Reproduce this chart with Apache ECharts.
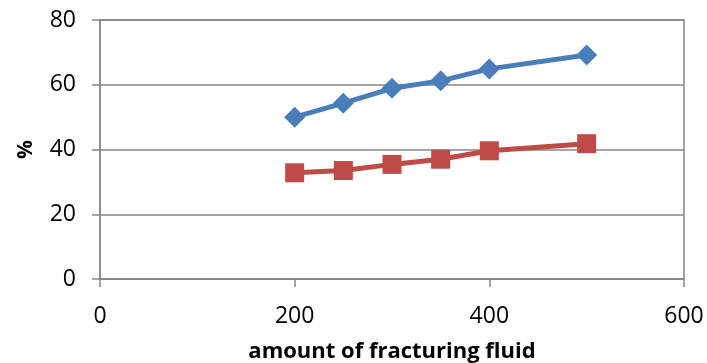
<!DOCTYPE html>
<html><head><meta charset="utf-8">
<script src="https://cdn.jsdelivr.net/npm/echarts@6/dist/echarts.min.js"></script>
<style>html,body{margin:0;padding:0;background:#fff}#c{width:707px;height:363px}</style>
</head><body><div id="c"></div>
<script>
var xValues = [200, 250, 300, 350, 400, 500];
var blueSeries = [50.0, 54.3, 58.9, 61.2, 64.9, 69.2];
var redSeries = [32.8, 33.5, 35.4, 37.0, 39.6, 41.8];
var xTicks = [0, 200, 400, 600];
var yTicks = [0, 20, 40, 60, 80];

function pairs(xs, ys){ return xs.map(function(x,i){ return [x, ys[i]]; }); }
var gray = '#878787';
var font = 'Open Sans';
var chart = echarts.init(document.getElementById('c'), null, {renderer:'canvas'});
chart.setOption({
  animation:false,
  grid:{left:100, right:23, top:20, bottom:84, show:true, borderColor:gray, borderWidth:1.5,
    containLabel:false, outerBoundsMode:'none'},
  xAxis:{type:'value', min:xTicks[0], max:xTicks[xTicks.length-1], interval:200,
    name:'amount of fracturing fluid', nameLocation:'middle', nameGap:62,
    nameTextStyle:{fontFamily:font, fontWeight:'bold', fontSize:22, color:'#000'},
    axisLine:{lineStyle:{color:gray, width:1.5}},
    axisTick:{show:true, length:8, inside:false, lineStyle:{color:gray, width:1.5}},
    axisLabel:{fontFamily:font, fontSize:23, color:'#000', margin:26},
    splitLine:{show:false}},
  yAxis:{type:'value', min:yTicks[0], max:yTicks[yTicks.length-1], interval:20,
    name:'%', nameLocation:'middle', nameGap:63, nameRotate:90,
    nameTextStyle:{fontFamily:font, fontWeight:'bold', fontSize:21, color:'#000'},
    axisLine:{show:true, lineStyle:{color:gray, width:1.5}},
    axisTick:{show:true, length:8, lineStyle:{color:gray, width:1.5}},
    axisLabel:{fontFamily:font, fontSize:23, color:'#000', margin:24},
    splitLine:{show:true, lineStyle:{color:gray, width:1.5}}},
  series:[
    {type:'line', data:pairs(xValues, blueSeries), symbol:'diamond', symbolSize:21,
     lineStyle:{color:'#4a7ebb', width:5}, itemStyle:{color:'#4a7ebb'}},
    {type:'line', data:pairs(xValues, redSeries), symbol:'rect', symbolSize:19,
     lineStyle:{color:'#be4b48', width:5}, itemStyle:{color:'#be4b48'}}
  ]
});
</script></body></html>
